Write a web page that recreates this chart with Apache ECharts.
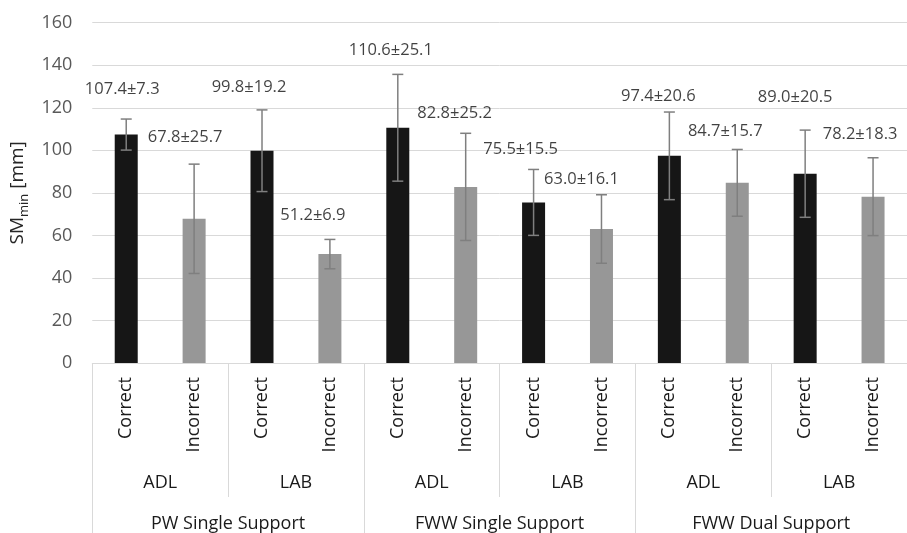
<!DOCTYPE html>
<html>
<head>
<meta charset="utf-8">
<script src="https://cdn.jsdelivr.net/npm/echarts@6/dist/echarts.min.js"></script>
<style>
html,body{margin:0;padding:0;background:#fff;}
#chart{width:907px;height:533px;}
</style>
</head>
<body>
<div id="chart"></div>
<script>
// ---- data ----
var outcomes = ["Correct","Incorrect","Correct","Incorrect","Correct","Incorrect","Correct","Incorrect","Correct","Incorrect","Correct","Incorrect"];
var environments = ["ADL","LAB","ADL","LAB","ADL","LAB"];
var conditions = ["PW Single Support","FWW Single Support","FWW Dual Support"];
var means = [107.4, 67.8, 99.8, 51.2, 110.6, 82.8, 75.5, 63.0, 97.4, 84.7, 89.0, 78.2];
var sds   = [7.3, 25.7, 19.2, 6.9, 25.1, 25.2, 15.5, 16.1, 20.6, 15.7, 20.5, 18.3];
var yTicks = {min: 0, max: 160, interval: 20};

// ---- label nudges (layout only, px relative to error-bar top) ----
var labelNudge = [[-4,-30],[-9,-27],[-13,-23],[-17,-24],[-7,-24],[-11,-20],[-13,-20],[-20,-15],[-11,-16],[-12,-18],[-10,-33],[-13,-23]];

var FONT = '"Open Sans", sans-serif';
var barColor = function(o){ return o === "Correct" ? "#161616" : "#979797"; };

var barData = means.map(function(m, i){
  return {value: m, itemStyle: {color: barColor(outcomes[i])}};
});
var errData = means.map(function(m, i){ return [i, m - sds[i], m + sds[i]]; });
var labelData = means.map(function(m, i){
  return {value: [i, m + sds[i]], label: {offset: labelNudge[i]}};
});

var chart = echarts.init(document.getElementById('chart'), null, {renderer: 'canvas'});
chart.setOption({
  animation: false,
  grid: {left: 90, width: 825, top: 22.7, bottom: 170, containLabel: false},
  xAxis: [
    {
      type: 'category', data: outcomes, position: 'bottom',
      axisLine: {show: true, lineStyle: {color: '#d9d9d9', width: 1}},
      axisTick: {show: false},
      axisLabel: {rotate: 90, margin: 14, fontSize: 18, fontFamily: FONT, color: '#1a1a1a', interval: 0}
    },
    {
      type: 'category', data: environments, position: 'bottom', gridIndex: 0,
      axisLine: {show: false},
      axisTick: {show: true, length: 134, interval: 0, lineStyle: {color: '#d9d9d9', width: 1}},
      axisLabel: {margin: 111, fontSize: 18, fontFamily: FONT, color: '#1a1a1a', interval: 0}
    },
    {
      type: 'category', data: conditions, position: 'bottom', gridIndex: 0,
      axisLine: {show: false},
      axisTick: {show: true, length: 175, interval: 0, lineStyle: {color: '#d9d9d9', width: 1}},
      axisLabel: {margin: 152, fontSize: 18, fontFamily: FONT, color: '#1a1a1a', interval: 0}
    }
  ],
  yAxis: {
    type: 'value', min: yTicks.min, max: yTicks.max, interval: yTicks.interval,
    axisLine: {show: false}, axisTick: {show: false},
    axisLabel: {fontSize: 18, fontFamily: FONT, color: '#595959', margin: 20},
    splitLine: {lineStyle: {color: '#d9d9d9', width: 1}},
    name: '{a|SM}{s|min}{a| [mm]}',
    nameLocation: 'middle', nameRotate: 90, nameGap: 60,
    nameTextStyle: {
      fontFamily: FONT, color: '#262626',
      rich: {
        a: {fontSize: 19, fontFamily: FONT, color: '#262626', lineHeight: 26, verticalAlign: 'middle'},
        s: {fontSize: 13, fontFamily: FONT, color: '#262626', lineHeight: 13, verticalAlign: 'bottom'}
      }
    }
  },
  series: [
    {
      type: 'bar', xAxisIndex: 0, data: barData, barWidth: 23, z: 2
    },
    {
      type: 'custom', xAxisIndex: 0, data: errData, z: 3,
      encode: {x: 0, y: [1, 2]},
      renderItem: function(params, api){
        var x = api.value(0);
        var top = api.coord([x, api.value(2)]);
        var bot = api.coord([x, api.value(1)]);
        var h = 5.5;
        var st = {stroke: '#7f7f7f', lineWidth: 1.5};
        return {type: 'group', children: [
          {type: 'line', shape: {x1: top[0], y1: top[1], x2: bot[0], y2: bot[1]}, style: st},
          {type: 'line', shape: {x1: top[0]-h, y1: top[1], x2: top[0]+h, y2: top[1]}, style: st},
          {type: 'line', shape: {x1: bot[0]-h, y1: bot[1], x2: bot[0]+h, y2: bot[1]}, style: st}
        ]};
      }
    },
    {
      type: 'scatter', xAxisIndex: 0, data: labelData, symbolSize: 0, z: 4,
      label: {
        show: true, position: 'inside', fontSize: 16.5, fontFamily: FONT, color: '#111',
        formatter: function(p){ var i = p.dataIndex; return means[i].toFixed(1) + '±' + sds[i].toFixed(1); }
      }
    }
  ]
});
</script>
</body>
</html>
